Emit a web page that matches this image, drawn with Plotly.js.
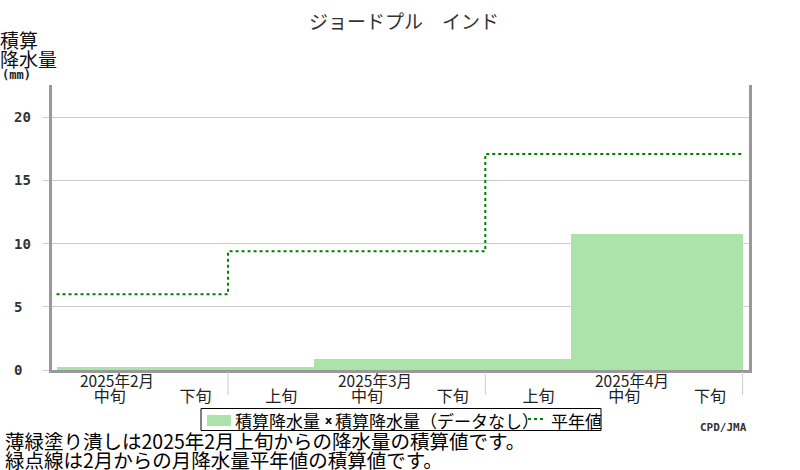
<!DOCTYPE html>
<html><head><meta charset="utf-8">
<script src="https://cdn.plot.ly/plotly-3.0.1.min.js"></script>
<style>html,body{margin:0;padding:0;background:#fff;}#chart{width:800px;height:470px;}</style>
</head><body><div id="chart"></div>
<script>
// ---- data ----
const titleText = 'ジョードプル　インド';
const dekadLabels = ['中旬','下旬','上旬','中旬','下旬','上旬','中旬','下旬'];
const monthLabels = ['2025年2月','2025年3月','2025年4月'];
const monthLabelDekad = [0, 3, 6];
const monthEnds = [2, 5, 8];
const precipCum = [0.2, 0.2, 0.2, 0.9, 0.9, 0.9, 10.8, 10.8];
const normalCum = [6.0, 6.0, 9.4, 9.4, 9.4, 17.1, 17.1, 17.1];
const yTicks = [0, 5, 10, 15, 20];
const seriesNames = ['積算降水量', '積算降水量（データなし）', '平年値'];
const yTitleLines = ['積算', '降水量'];
const yUnit = '(mm)';
const noteLines = ['薄緑塗り潰しは2025年2月上旬からの降水量の積算値です。', '緑点線は2月からの月降水量平年値の積算値です。'];
const credit = 'CPD/JMA';

// ---- colours ----
const precipColor = '#ace3ab';
const normalColor = '#008000';

// ---- geometry helpers ----
const M = {l: 52, r: 51, t: 85, b: 100};
const W = 800, H = 470;
const plotW = W - M.l - M.r, plotH = H - M.t - M.b;
const px2px = x => (x - M.l) / plotW;          // pixel x -> paper x
const py2py = y => (H - M.b - y) / plotH;       // pixel y -> paper y

const jp = 'Noto Sans CJK JP';
const mono = 'DejaVu Sans Mono';

const xCenters = precipCum.map((_, i) => i + 0.5);
const xEdges = normalCum.map((_, i) => i).concat([normalCum.length]);
const normalStep = normalCum.concat([normalCum[normalCum.length - 1]]);

const traces = [
  {type: 'bar', name: seriesNames[0], x: xCenters, y: precipCum, width: 1,
   marker: {color: precipColor, line: {width: 0}}, hoverinfo: 'skip', showlegend: false},
  {type: 'scatter', mode: 'lines', name: seriesNames[2], x: xEdges, y: normalStep,
   line: {shape: 'hv', color: normalColor, width: 2, dash: '3px,3px'}, hoverinfo: 'skip', showlegend: false}
];

const annotations = [];
const shapes = [];
const ann = (o) => annotations.push(Object.assign({showarrow: false, borderpad: 0}, o));

// month labels
monthLabels.forEach((m, k) => ann({
  text: m, xref: 'x', yref: 'paper', x: monthLabelDekad[k] + 0.71, y: py2py(379.5),
  xanchor: 'center', yanchor: 'middle',
  font: {family: jp, size: 15.5, color: '#222'}
}));
// y tick labels (left aligned)
yTicks.forEach(v => ann({
  text: String(v), xref: 'paper', yref: 'y', x: px2px(13), y: v,
  xanchor: 'left', yanchor: 'middle',
  font: {family: mono, size: 14, color: '#333', weight: 'bold'}
}));
// y title
yTitleLines.forEach((t, k) => ann({
  text: t, xref: 'paper', yref: 'paper', x: px2px(-1), y: py2py(40 + 19 * k),
  xanchor: 'left', yanchor: 'middle',
  font: {family: jp, size: 19, color: '#111'}
}));
ann({
  text: yUnit, xref: 'paper', yref: 'paper', x: px2px(1), y: py2py(75),
  xanchor: 'left', yanchor: 'middle',
  font: {family: mono, size: 12, color: '#222', weight: 'bold'}
});
// notes
noteLines.forEach((t, k) => ann({
  text: t, xref: 'paper', yref: 'paper', x: px2px(4), y: py2py(440.5 + 18.5 * k),
  xanchor: 'left', yanchor: 'middle',
  font: {family: jp, size: 19.5, color: '#000'}
}));
ann({
  text: credit, xref: 'paper', yref: 'paper', x: px2px(748), y: py2py(427),
  xanchor: 'right', yanchor: 'middle',
  font: {family: mono, size: 11, color: '#333', weight: 'bold'}
});

// month separators below the axis
monthEnds.forEach(e => shapes.push({
  type: 'line', xref: 'x', yref: 'paper', x0: e, x1: e, y0: py2py(372), y1: py2py(395),
  line: {color: '#ccc', width: 1}
}));

// ---- legend box (compact, like the reference) ----
const lgY = 420;
shapes.push({type: 'rect', xref: 'paper', yref: 'paper',
  x0: px2px(201), x1: px2px(601), y0: py2py(408.5), y1: py2py(430.5),
  line: {color: '#000', width: 1}, fillcolor: '#fff', layer: 'above'});
shapes.push({type: 'rect', xref: 'paper', yref: 'paper',
  x0: px2px(207), x1: px2px(231), y0: py2py(415), y1: py2py(426),
  line: {width: 0}, fillcolor: precipColor, layer: 'above'});
shapes.push({type: 'line', xref: 'paper', yref: 'paper',
  x0: px2px(528), x1: px2px(546), y0: py2py(419), y1: py2py(419),
  line: {color: normalColor, width: 2, dash: '3px,3px'}, layer: 'above'});
ann({text: seriesNames[0], xref: 'paper', yref: 'paper', x: px2px(234), y: py2py(lgY),
  xanchor: 'left', yanchor: 'middle', font: {family: jp, size: 17, color: '#000'}});
ann({text: 'x', xref: 'paper', yref: 'paper', x: px2px(328.5), y: py2py(420),
  xanchor: 'center', yanchor: 'middle', font: {family: 'DejaVu Sans', size: 11, color: '#000', weight: 'bold'}});
ann({text: seriesNames[1], xref: 'paper', yref: 'paper', x: px2px(334), y: py2py(lgY),
  xanchor: 'left', yanchor: 'middle', font: {family: jp, size: 17, color: '#000'}});
ann({text: seriesNames[2], xref: 'paper', yref: 'paper', x: px2px(550), y: py2py(lgY),
  xanchor: 'left', yanchor: 'middle', font: {family: jp, size: 17, color: '#000'}});

const layout = {
  width: W, height: H, margin: M,
  paper_bgcolor: '#fff', plot_bgcolor: '#fff',
  title: {text: titleText, xref: 'container', x: 0.505, xanchor: 'center',
          yref: 'container', y: 1 - 22 / H, yanchor: 'middle',
          font: {family: jp, size: 19, color: '#333'}},
  xaxis: {range: [-0.053, 8.075], showgrid: false, zeroline: false,
          showline: true, linecolor: '#999', linewidth: 3,
          tickmode: 'array', tickvals: dekadLabels.map((_, i) => i + 0.62), ticktext: dekadLabels,
          ticks: '', ticklabelstandoff: 10,
          tickfont: {family: jp, size: 16, color: '#222'}, fixedrange: true},
  yaxis: {range: [0, 22.55], showgrid: true, gridcolor: '#ccc', gridwidth: 1, zeroline: false,
          showline: true, mirror: true, linecolor: '#999', linewidth: 3,
          tickmode: 'array', tickvals: yTicks, ticks: 'outside', ticklen: 6, tickcolor: '#ccc',
          showticklabels: false, fixedrange: true},
  showlegend: false,
  bargap: 0,
  annotations: annotations,
  shapes: shapes
};

Plotly.newPlot('chart', traces, layout, {displayModeBar: false, staticPlot: true});
</script>
</body></html>
